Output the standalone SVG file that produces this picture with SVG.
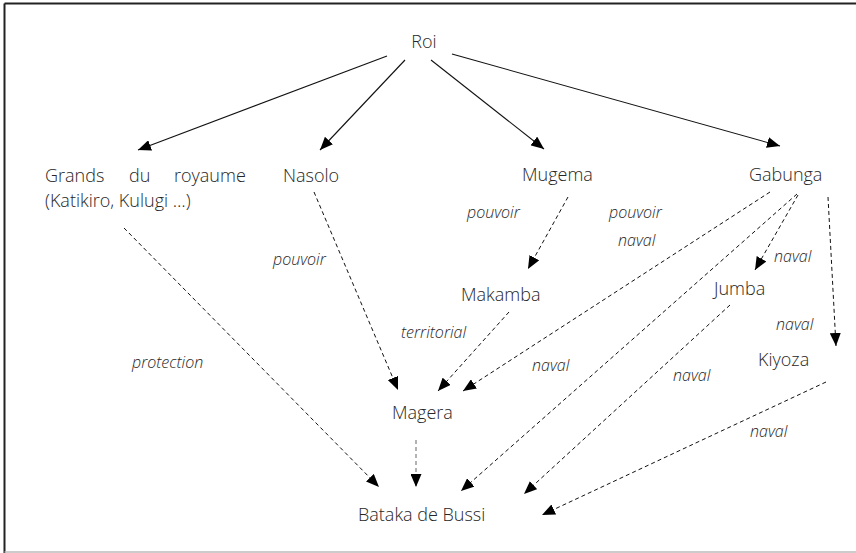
<svg xmlns="http://www.w3.org/2000/svg" width="856" height="553" viewBox="0 0 856 553">
  <style>
    .node { font-family: "Open Sans", "Liberation Sans", sans-serif; font-size: 18px; font-weight: 300; fill: #262626; }
    .lbl { font-family: "Open Sans", "Liberation Sans", sans-serif; font-size: 16px; font-style: italic; font-weight: 300; fill: #262626; }
    .solid { stroke: #111; stroke-width: 1.1; fill: none; marker-end: url(#ah); }
    .dash { stroke: #111; stroke-width: 1; stroke-dasharray: 4 3; fill: none; marker-end: url(#ah); }
    .gdash { stroke: #999; stroke-width: 1.5; stroke-dasharray: 4 3; fill: none; marker-end: url(#ah); }
  </style>
  <defs>
    <marker id="ah" markerUnits="userSpaceOnUse" markerWidth="13" markerHeight="11" refX="13" refY="5.5" orient="auto">
      <path d="M0,0 L13,5.5 L0,11 z" fill="#000"/>
    </marker>
  </defs>
  <rect x="0" y="0" width="856" height="553" fill="#fff"/>
  <g id="frame">
    <line x1="4.5" y1="3.5" x2="856" y2="3.5" stroke="#222" stroke-width="2"/>
    <line x1="4.5" y1="3.5" x2="4.5" y2="553" stroke="#222" stroke-width="2"/>
    <line x1="4.5" y1="552" x2="856" y2="552" stroke="#bbb" stroke-width="1.5"/>
  </g>
  <g id="connectors">
    <line class="solid" x1="387" y1="56" x2="138" y2="150"/>
    <line class="solid" x1="405" y1="60" x2="320" y2="150"/>
    <line class="solid" x1="431" y1="60" x2="544" y2="149"/>
    <line class="solid" x1="452" y1="54" x2="780" y2="146"/>
    <line class="dash" x1="124" y1="228" x2="379" y2="487"/>
    <line class="dash" x1="314" y1="192" x2="398" y2="390"/>
    <line class="dash" x1="568" y1="197" x2="528" y2="269"/>
    <line class="dash" x1="509" y1="312" x2="438" y2="391"/>
    <line class="dash" x1="770" y1="192" x2="463" y2="391"/>
    <line class="dash" x1="797" y1="194" x2="461" y2="491"/>
    <line class="dash" x1="798" y1="195" x2="755" y2="270"/>
    <line class="dash" x1="828" y1="197" x2="836" y2="346"/>
    <line class="dash" x1="730" y1="305" x2="524" y2="494"/>
    <line class="dash" x1="826" y1="382" x2="542" y2="515"/>
    <line class="gdash" x1="416" y1="440" x2="416" y2="487"/>
  </g>
  <g id="labels">
    <text class="lbl" x="273" y="265">pouvoir</text>
    <text class="lbl" x="467" y="218">pouvoir</text>
    <text class="lbl" x="609" y="218">pouvoir</text>
    <text class="lbl" x="618" y="246">naval</text>
    <text class="lbl" x="774" y="262">naval</text>
    <text class="lbl" x="401" y="338">territorial</text>
    <text class="lbl" x="132" y="368">protection</text>
    <text class="lbl" x="532" y="371">naval</text>
    <text class="lbl" x="673" y="381">naval</text>
    <text class="lbl" x="776" y="330">naval</text>
    <text class="lbl" x="750" y="437">naval</text>
  </g>
  <g id="roi"><text class="node" x="424" y="48" text-anchor="middle">Roi</text></g>
  <g id="grands">
    <text class="node" y="182"><tspan x="45">Grands</tspan><tspan x="129">du</tspan><tspan x="174">royaume</tspan></text>
    <text class="node" x="45" y="207">(Katikiro, Kulugi …)</text>
  </g>
  <g id="nasolo"><text class="node" x="283" y="182">Nasolo</text></g>
  <g id="mugema"><text class="node" x="522" y="181">Mugema</text></g>
  <g id="gabunga"><text class="node" x="749" y="181">Gabunga</text></g>
  <g id="makamba"><text class="node" x="461" y="301">Makamba</text></g>
  <g id="jumba"><text class="node" x="714" y="295">Jumba</text></g>
  <g id="kiyoza"><text class="node" x="758" y="366">Kiyoza</text></g>
  <g id="magera"><text class="node" x="392" y="419">Magera</text></g>
  <g id="bataka"><text class="node" x="358" y="521">Bataka de Bussi</text></g>
</svg>
